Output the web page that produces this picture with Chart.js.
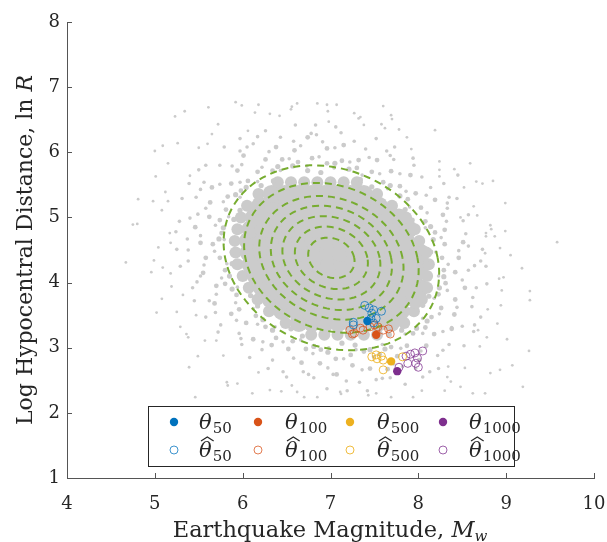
<!DOCTYPE html>
<html>
<head>
<meta charset="utf-8">
<script src="https://cdn.jsdelivr.net/npm/chart.js@4.4.0/dist/chart.umd.min.js"></script>
<style>
html, body { margin: 0; padding: 0; background: #fff; }
#wrap { width: 607px; height: 542px; }
</style>
</head>
<body>
<div id="wrap"><canvas id="chart" width="607" height="542"></canvas></div>
<script>
// 数据：估计值（参数点）
const theta50 = [[7.42, 3.41]];
const theta100 = [[7.52, 3.20]];
const theta500 = [[7.69, 2.79]];
const theta1000 = [[7.76, 2.64]];

const thetaHat50 = [[7.39, 3.65], [7.44, 3.61], [7.49, 3.58], [7.58, 3.56], [7.47, 3.53], [7.46, 3.45],
    [7.26, 3.39], [7.26, 3.35], [7.49, 3.38], [7.52, 3.45]];
const thetaHat100 = [[7.22, 3.27], [7.27, 3.22], [7.25, 3.21], [7.34, 3.30], [7.45, 3.32], [7.50, 3.35],
    [7.54, 3.32], [7.60, 3.27], [7.66, 3.29], [7.68, 3.21], [7.37, 3.27]];
const thetaHat500 = [[7.52, 2.89], [7.58, 2.87], [7.53, 2.83], [7.60, 2.81], [7.60, 2.66], [7.82, 2.86], [7.47, 2.86]];
const thetaHat1000 = [[7.86, 2.87], [7.91, 2.90], [7.96, 2.92], [8.05, 2.95], [7.99, 2.84], [7.97, 2.76],
    [8.00, 2.70], [7.88, 2.76], [7.78, 2.70]];

// 等值线（椭圆）参数
const contourCenter = [7.01, 4.38];
const contourRx = [1.21, 0.98, 0.81, 0.68, 0.55, 0.41, 0.26];
const contourRy = [1.42, 1.15, 0.95, 0.80, 0.64, 0.48, 0.31];
const contourShear = -0.145;

// 灰色样本点：密集核心（按行）
const cloudCoreRows = [
    [3.20, [6.78, 6.93, 7.08, 7.23, 7.38, 7.53]],
    [3.38, [6.49, 6.64, 6.79, 6.94, 7.09, 7.24, 7.39, 7.54, 7.69, 7.84]],
    [3.56, [6.30, 6.45, 6.60, 6.75, 6.90, 7.05, 7.20, 7.35, 7.50, 7.65, 7.80, 7.95]],
    [3.74, [6.17, 6.32, 6.47, 6.62, 6.77, 6.92, 7.07, 7.22, 7.37, 7.52, 7.67, 7.82, 7.97, 8.04]],
    [3.92, [6.07, 6.22, 6.37, 6.52, 6.67, 6.82, 6.97, 7.12, 7.27, 7.42, 7.57, 7.72, 7.87, 8.02, 8.10]],
    [4.10, [6.00, 6.15, 6.30, 6.45, 6.60, 6.75, 6.90, 7.05, 7.20, 7.35, 7.50, 7.65, 7.80, 7.95, 8.10]],
    [4.28, [5.94, 6.09, 6.24, 6.39, 6.54, 6.69, 6.84, 6.99, 7.14, 7.29, 7.44, 7.59, 7.74, 7.89, 8.04, 8.12]],
    [4.46, [5.92, 6.07, 6.22, 6.37, 6.52, 6.67, 6.82, 6.97, 7.12, 7.27, 7.42, 7.57, 7.72, 7.87, 8.02, 8.09]],
    [4.64, [5.91, 6.06, 6.21, 6.36, 6.51, 6.66, 6.81, 6.96, 7.11, 7.26, 7.41, 7.56, 7.71, 7.86, 8.01]],
    [4.82, [5.94, 6.09, 6.24, 6.39, 6.54, 6.69, 6.84, 6.99, 7.14, 7.29, 7.44, 7.59, 7.74, 7.89, 7.96]],
    [5.00, [5.98, 6.13, 6.28, 6.43, 6.58, 6.73, 6.88, 7.03, 7.18, 7.33, 7.48, 7.63, 7.78, 7.86]],
    [5.18, [6.05, 6.20, 6.35, 6.50, 6.65, 6.80, 6.95, 7.10, 7.25, 7.40, 7.55, 7.70]],
    [5.36, [6.18, 6.33, 6.48, 6.63, 6.78, 6.93, 7.08, 7.23, 7.38, 7.53]],
    [5.54, [6.40, 6.55, 6.70, 6.85, 7.00, 7.15, 7.30]]
];

// 灰色样本点：核心边界
const cloudBand = [[8.14, 4.47], [8.17, 4.66], [8.14, 4.86], [7.93, 4.96], [7.85, 5.12], [7.79, 5.33], [7.68, 5.49], [7.47, 5.47],
    [7.34, 5.58], [7.21, 5.74], [7.05, 5.83], [6.89, 5.69], [6.74, 5.72], [6.57, 5.79], [6.40, 5.78], [6.35, 5.56],
    [6.21, 5.49], [6.04, 5.46], [5.92, 5.35], [5.97, 5.11], [5.90, 4.97], [5.78, 4.84], [5.73, 4.67], [5.88, 4.47],
    [5.88, 4.29], [5.85, 4.10], [5.88, 3.90], [6.09, 3.80], [6.17, 3.64], [6.23, 3.43], [6.34, 3.27], [6.55, 3.29],
    [6.68, 3.18], [6.81, 3.02], [6.97, 2.93], [7.13, 3.07], [7.28, 3.04], [7.45, 2.97], [7.62, 2.98], [7.67, 3.20],
    [7.81, 3.27], [7.98, 3.30], [8.10, 3.41], [8.05, 3.65], [8.12, 3.79], [8.24, 3.92], [8.29, 4.09], [8.14, 4.29]];

// 灰色样本点：核心边缘
const cloudRing = [[8.27, 4.38], [8.46, 4.38], [8.30, 4.59], [8.51, 4.62], [8.19, 4.77], [8.30, 4.81], [8.08, 4.94], [8.28, 5.04],
    [8.03, 5.15], [8.19, 5.27], [7.88, 5.28], [7.97, 5.37], [7.79, 5.48], [7.91, 5.65], [7.60, 5.54], [7.69, 5.71],
    [7.47, 5.70], [7.53, 5.88], [7.30, 5.76], [7.32, 5.88], [7.13, 5.87], [7.15, 6.11], [6.96, 5.83], [6.96, 6.06],
    [6.79, 5.91], [6.74, 6.23], [6.63, 5.85], [6.59, 6.03], [6.45, 5.89], [6.38, 6.08], [6.34, 5.72], [6.26, 5.89],
    [6.17, 5.70], [6.01, 5.95], [6.06, 5.56], [5.94, 5.72], [5.98, 5.41], [5.87, 5.52], [5.83, 5.32], [5.65, 5.46],
    [5.81, 5.12], [5.63, 5.23], [5.74, 4.96], [5.62, 5.01], [5.76, 4.76], [5.46, 4.85], [5.66, 4.59], [5.52, 4.61],
    [5.74, 4.38], [5.58, 4.38], [5.80, 4.19], [5.55, 4.15], [5.80, 3.98], [5.70, 3.95], [5.93, 3.81], [5.68, 3.68],
    [5.96, 3.59], [5.87, 3.52], [6.15, 3.49], [6.04, 3.38], [6.26, 3.32], [6.12, 3.13], [6.38, 3.15], [6.33, 3.04],
    [6.57, 3.10], [6.52, 2.98], [6.72, 2.98], [6.67, 2.77], [6.89, 2.97], [6.88, 2.76], [7.06, 2.83], [7.07, 2.59],
    [7.23, 2.89], [7.25, 2.73], [7.38, 2.94], [7.45, 2.68], [7.56, 2.90], [7.65, 2.67], [7.69, 3.01], [7.76, 2.87],
    [7.87, 3.03], [8.01, 2.81], [7.94, 3.22], [8.09, 3.03], [8.08, 3.31], [8.18, 3.21], [8.15, 3.47], [8.38, 3.29],
    [8.26, 3.61], [8.41, 3.51], [8.23, 3.82], [8.42, 3.74], [8.31, 3.99], [8.53, 3.92], [8.29, 4.19], [8.42, 4.16]];

// 灰色样本点：边缘外侧的细点
const cloudEdge = [[8.20, 4.47], [8.46, 4.49], [8.26, 4.69], [8.54, 4.75], [8.08, 4.84], [8.32, 4.94], [8.10, 5.07], [8.33, 5.22],
    [7.90, 5.16], [8.09, 5.34], [7.86, 5.40], [8.04, 5.62], [7.65, 5.44], [7.79, 5.67], [7.56, 5.67], [7.68, 5.95],
    [7.36, 5.65], [7.44, 5.92], [7.22, 5.85], [7.27, 6.17], [7.04, 5.76], [7.05, 6.07], [6.87, 5.93], [6.84, 6.27],
    [6.73, 5.79], [6.66, 6.10], [6.53, 5.90], [6.43, 6.23], [6.43, 5.72], [6.30, 6.01], [6.22, 5.77], [6.05, 6.08],
    [6.17, 5.55], [5.99, 5.81], [5.97, 5.54], [5.74, 5.80], [5.97, 5.31], [5.74, 5.51], [5.78, 5.24], [5.52, 5.43],
    [5.84, 5.01], [5.58, 5.14], [5.69, 4.88], [5.40, 4.99], [5.79, 4.66], [5.52, 4.72], [5.68, 4.48], [5.38, 4.50],
    [5.82, 4.29], [5.56, 4.27], [5.76, 4.07], [5.48, 4.01], [5.94, 3.93], [5.70, 3.82], [5.92, 3.69], [5.69, 3.54],
    [6.12, 3.60], [5.93, 3.42], [6.17, 3.36], [5.98, 3.14], [6.37, 3.32], [6.23, 3.09], [6.46, 3.09], [6.34, 2.81],
    [6.66, 3.12], [6.58, 2.84], [6.80, 2.91], [6.75, 2.59], [6.98, 3.00], [6.97, 2.69], [7.15, 2.83], [7.18, 2.49],
    [7.29, 2.97], [7.36, 2.66], [7.49, 2.86], [7.59, 2.53], [7.59, 3.05], [7.72, 2.75], [7.80, 2.99], [7.97, 2.68],
    [7.85, 3.21], [8.03, 2.95], [8.05, 3.22], [8.28, 2.96], [8.05, 3.45], [8.28, 3.25], [8.24, 3.52], [8.50, 3.33],
    [8.18, 3.76], [8.44, 3.62], [8.33, 3.88], [8.62, 3.77], [8.23, 4.10], [8.50, 4.04], [8.34, 4.28], [8.64, 4.26],
    [8.73, 4.51], [8.57, 5.04], [8.29, 5.52], [7.94, 5.91], [7.52, 6.21], [7.06, 6.39], [6.60, 6.42], [6.17, 6.24],
    [5.79, 6.08], [5.50, 5.73], [5.31, 5.29], [5.24, 4.78], [5.29, 4.25], [5.45, 3.72], [5.72, 3.24], [6.08, 2.85],
    [6.50, 2.55], [6.96, 2.37], [7.42, 2.34], [7.85, 2.44], [8.23, 2.68], [8.52, 3.03], [8.71, 3.47], [8.78, 3.98]];

// 灰色样本点：中间区域
const cloudMid = [[8.71, 4.33], [8.51, 4.95], [8.35, 5.31], [7.95, 5.80], [7.64, 6.02], [7.12, 6.30], [6.78, 6.29], [6.26, 6.33],
    [5.97, 6.02], [5.58, 5.80], [5.47, 5.31], [5.28, 4.94], [5.38, 4.33], [5.43, 3.92], [5.75, 3.35], [5.99, 3.05],
    [6.46, 2.63], [6.81, 2.54], [7.33, 2.47], [7.68, 2.54], [8.13, 2.63], [8.35, 3.05], [8.64, 3.35], [8.66, 3.92],
    [8.57, 4.56], [8.33, 5.14], [8.14, 5.46], [7.72, 5.89], [7.40, 6.05], [6.91, 6.16], [6.58, 6.17], [6.12, 6.13],
    [5.88, 5.79], [5.56, 5.54], [5.49, 5.05], [5.37, 4.67], [5.52, 4.10], [5.62, 3.72], [5.96, 3.22], [6.22, 2.97],
    [6.69, 2.63], [7.03, 2.59], [7.52, 2.51], [7.82, 2.71], [8.22, 2.88], [8.38, 3.31], [8.61, 3.63], [8.57, 4.19],
    [8.44, 5.29], [8.45, 5.65], [7.73, 6.08], [6.83, 6.42], [5.97, 6.21], [5.39, 5.52], [5.25, 4.51], [5.58, 3.47],
    [6.29, 2.68], [7.19, 2.34], [8.05, 2.55], [8.63, 3.25], [8.77, 4.25]];

// 灰色样本点：稀疏外围
const cloudSparse = [[8.77, 4.71], [8.63, 5.17], [8.24, 5.73], [7.92, 6.05], [7.38, 6.42], [6.98, 6.47], [6.42, 6.56], [6.06, 6.33],
    [5.60, 6.13], [5.40, 5.64], [5.15, 5.25], [5.18, 4.61], [5.18, 4.14], [5.47, 3.50], [5.70, 3.11], [6.18, 2.62],
    [6.56, 2.42], [7.12, 2.29], [7.52, 2.30], [8.04, 2.34], [8.34, 2.71], [8.70, 3.02], [8.79, 3.59], [8.92, 4.06],
    [9.05, 4.42], [8.66, 5.55], [7.70, 6.51], [6.62, 6.75], [5.72, 6.43], [5.01, 5.63], [4.99, 4.34], [5.36, 3.21],
    [6.31, 2.35], [8.30, 2.34], [9.01, 3.13],
    [5.92, 6.77], [6.18, 6.73], [6.56, 6.70], [6.85, 6.75], [6.96, 6.73], [5.34, 6.63], [5.23, 6.55], [5.61, 6.69],
    [5.00, 6.02], [4.81, 5.28], [4.98, 5.25], [5.15, 5.83], [5.26, 6.14], [6.14, 6.61], [6.97, 6.63],
    [7.60, 6.71], [7.69, 6.57], [7.27, 6.60], [7.34, 6.54], [7.62, 6.37], [7.78, 6.35], [8.59, 5.83], [8.41, 5.74],
    [8.85, 5.56], [8.73, 5.52], [8.52, 5.46], [8.24, 5.63], [7.87, 6.23],
    [9.58, 4.62], [9.18, 4.22], [9.27, 3.73], [9.26, 2.95], [9.07, 2.73], [9.19, 2.40], [8.99, 4.79], [8.87, 4.71],
    [8.77, 4.76], [8.82, 4.88], [8.67, 5.03], [8.48, 5.00], [8.76, 4.45], [8.97, 4.08], [8.95, 3.88], [8.78, 3.16],
    [8.82, 2.61], [8.68, 3.27], [8.62, 2.30], [8.76, 2.30], [8.33, 2.55], [8.48, 2.40],
    [4.67, 4.31], [4.80, 4.90], [4.96, 4.16], [5.08, 3.75], [5.04, 4.54], [5.17, 4.76], [5.29, 3.32], [5.39, 2.70],
    [5.49, 2.87], [5.25, 3.55], [5.32, 3.81], [5.38, 3.16], [5.46, 2.24], [5.82, 2.47], [5.94, 2.45], [6.11, 2.30],
    [6.62, 2.32], [6.85, 2.24], [7.11, 2.32],
    [8.83, 4.82], [8.99, 5.22], [8.24, 5.86], [8.19, 6.34], [7.32, 6.52], [7.07, 6.73], [6.31, 6.59], [5.99, 6.72],
    [5.50, 6.07], [5.09, 6.10], [5.08, 5.11], [4.75, 4.89], [5.19, 3.94], [5.02, 3.54], [5.78, 2.88], [5.83, 2.42],
    [6.70, 2.24], [7.69, 2.24], [7.94, 2.24], [8.53, 2.69], [8.93, 2.66], [8.94, 3.65], [9.27, 3.87],
    [7.58, 6.43], [6.55, 6.66], [5.65, 6.28], [5.12, 5.39], [5.09, 4.23], [5.57, 3.11], [6.44, 2.33], [7.43, 2.27],
    [8.37, 2.48], [8.90, 3.37], [8.93, 4.53]];

// 样式
const FONT = '"DejaVu Serif", "Liberation Serif", serif';
const axisColor = '#555555';
const textColor = '#262626';
const gray = '#cbcbcb';
const green = '#77AC30';
const colors = {
    c50: '#0072BD', c100: '#D95319', c500: '#EDB120', c1000: '#7E2F8E',
    h50: 'rgba(0,114,189,0.75)', h100: 'rgba(217,83,25,0.75)', h500: 'rgba(237,177,32,0.85)', h1000: 'rgba(126,47,142,0.75)'
};

function toXY(arr) {
    return arr.map(p => ({ x: p[0], y: p[1] }));
}

// 椭圆点
function ellipsePoints(rx, ry) {
    const pts = [];
    for (let a = 0; a <= 360; a += 4) {
        const t = a * Math.PI / 180;
        const s = Math.sin(t);
        pts.push({ x: contourCenter[0] + rx * Math.cos(t) + contourShear * ry * s, y: contourCenter[1] + ry * s });
    }
    return pts;
}

// 核心点，行首行尾标记为边缘
const corePoints = [];
cloudCoreRows.forEach((row, ri) => row[1].forEach((x, i) => {
    const edge = ri === 0 || ri === cloudCoreRows.length - 1 || i === 0 || i === row[1].length - 1;
    corePoints.push({ x: x, y: row[0], edge: edge });
}));

function cloudSet(data, r, order) {
    return { data: data, pointRadius: r, pointBackgroundColor: gray, pointBorderWidth: 0, borderWidth: 0, order: order };
}
function filledSet(data, c) {
    return { data: toXY(data), pointRadius: 4.2, pointBackgroundColor: c, pointBorderColor: c, pointBorderWidth: 0, order: 0 };
}
function openSet(data, c) {
    return { data: toXY(data), pointRadius: 4, pointBackgroundColor: 'rgba(0,0,0,0)', pointBorderColor: c, pointBorderWidth: 1, order: 1 };
}

const datasets = [
    filledSet(theta50, colors.c50), filledSet(theta100, colors.c100),
    filledSet(theta500, colors.c500), filledSet(theta1000, colors.c1000),
    openSet(thetaHat50, colors.h50), openSet(thetaHat100, colors.h100),
    openSet(thetaHat500, colors.h500), openSet(thetaHat1000, colors.h1000)
];
contourRx.forEach((rx, i) => {
    datasets.push({
        data: ellipsePoints(rx, contourRy[i]), showLine: true, pointRadius: 0, borderColor: green,
        borderWidth: 2, borderDash: [7, 5], fill: false, tension: 0, order: 5
    });
});
datasets.push(cloudSet(toXY(cloudSparse), 1.4, 10));
datasets.push(cloudSet(toXY(cloudMid), 1.8, 11));
datasets.push(cloudSet(toXY(cloudEdge), 1.8, 12));
datasets.push(cloudSet(toXY(cloudRing), 2.4, 13));
datasets.push(cloudSet(toXY(cloudBand), 2.6, 14));
datasets.push(cloudSet(corePoints, ctx => (ctx.raw && ctx.raw.edge ? 6 : 9), 15));

// 图例和坐标轴标题
function drawTheta(ctx, x, y, sub, hat) {
    ctx.font = 'italic 21px ' + FONT;
    ctx.fillText('θ', x, y);
    const w = ctx.measureText('θ').width;
    if (hat) {
        ctx.beginPath();
        ctx.moveTo(x + 2, y - 16);
        ctx.lineTo(x + w / 2 + 2, y - 20);
        ctx.lineTo(x + w + 2, y - 16);
        ctx.lineWidth = 1.2;
        ctx.stroke();
    }
    ctx.font = '15px ' + FONT;
    ctx.fillText(sub, x + w + 1, y + 4);
}

const decorPlugin = {
    id: 'decor',
    afterDraw(chart) {
        const ctx = chart.ctx;
        const xs = chart.scales.x, ys = chart.scales.y;
        const area = chart.chartArea;
        ctx.save();

        // 刻度线（向内）
        ctx.strokeStyle = axisColor;
        ctx.lineWidth = 1;
        ctx.beginPath();
        xs.ticks.forEach(t => {
            const p = Math.round(xs.getPixelForValue(t.value)) + 0.5;
            ctx.moveTo(p, area.bottom);
            ctx.lineTo(p, area.bottom - 5);
        });
        ys.ticks.forEach(t => {
            const p = Math.round(ys.getPixelForValue(t.value)) + 0.5;
            ctx.moveTo(area.left, p);
            ctx.lineTo(area.left + 5, p);
        });
        ctx.stroke();

        // 图例
        const lx = 148.5, ly = 406.5, lw = 366, lh = 60;
        ctx.fillStyle = '#fff';
        ctx.fillRect(lx, ly, lw, lh);
        ctx.strokeStyle = '#262626';
        ctx.strokeRect(lx, ly, lw, lh);
        const cols = [[174, 199, '50', colors.c50, colors.h50], [258, 285, '100', colors.c100, colors.h100],
            [350, 377, '500', colors.c500, colors.h500], [443, 469, '1000', colors.c1000, colors.h1000]];
        cols.forEach(c => {
            ctx.fillStyle = c[3];
            ctx.beginPath();
            ctx.arc(c[0], 422, 4.2, 0, Math.PI * 2);
            ctx.fill();
            ctx.strokeStyle = c[4];
            ctx.lineWidth = 1;
            ctx.beginPath();
            ctx.arc(c[0], 450, 4, 0, Math.PI * 2);
            ctx.stroke();
            ctx.fillStyle = textColor;
            ctx.strokeStyle = textColor;
            ctx.textBaseline = 'alphabetic';
            ctx.textAlign = 'left';
            drawTheta(ctx, c[1], 429, c[2], false);
            drawTheta(ctx, c[1], 457, c[2], true);
        });

        // x 轴标题
        ctx.fillStyle = textColor;
        ctx.textAlign = 'left';
        ctx.font = '22.5px ' + FONT;
        const t1 = 'Earthquake Magnitude, ';
        const w1 = ctx.measureText(t1).width;
        ctx.font = 'italic 22.5px ' + FONT;
        const w2 = ctx.measureText('M').width;
        ctx.font = 'italic 15px ' + FONT;
        const w3 = ctx.measureText('w').width;
        const x0 = 330 - (w1 + w2 + w3) / 2;
        const by = 537;
        ctx.font = '22.5px ' + FONT;
        ctx.fillText(t1, x0, by);
        ctx.font = 'italic 22.5px ' + FONT;
        ctx.fillText('M', x0 + w1, by);
        ctx.font = 'italic 15px ' + FONT;
        ctx.fillText('w', x0 + w1 + w2, by + 4);

        // y 轴标题
        ctx.translate(32, 250);
        ctx.rotate(-Math.PI / 2);
        ctx.font = '22px ' + FONT;
        const s1 = 'Log Hypocentral Distance, ln ';
        const v1 = ctx.measureText(s1).width;
        ctx.font = 'italic 22px ' + FONT;
        const v2 = ctx.measureText('R').width;
        const y0 = -(v1 + v2) / 2;
        ctx.font = '22px ' + FONT;
        ctx.fillText(s1, y0, 0);
        ctx.font = 'italic 22px ' + FONT;
        ctx.fillText('R', y0 + v1, 0);

        ctx.restore();
    }
};

const tickFont = { family: FONT, size: 18 };

new Chart(document.getElementById('chart'), {
    type: 'scatter',
    data: { datasets: datasets },
    options: {
        responsive: false,
        animation: false,
        events: [],
        layout: { padding: { top: 22, right: 13, left: 0, bottom: 0 } },
        plugins: { legend: { display: false }, tooltip: { enabled: false } },
        scales: {
            x: {
                type: 'linear', min: 4, max: 10,
                ticks: { stepSize: 1, font: tickFont, color: textColor, padding: 16 },
                grid: { display: false, drawTicks: false },
                border: { display: true, color: axisColor, width: 1 },
                afterFit: s => { s.height = 64; s.paddingLeft = 0; s.paddingRight = 0; }
            },
            y: {
                type: 'linear', min: 1, max: 8,
                ticks: { stepSize: 1, font: tickFont, color: textColor, padding: 7 },
                grid: { display: false, drawTicks: false },
                border: { display: true, color: axisColor, width: 1 },
                afterFit: s => { s.width = 67; s.paddingTop = 0; s.paddingBottom = 0; }
            }
        }
    },
    plugins: [decorPlugin]
});
</script>
</body>
</html>
